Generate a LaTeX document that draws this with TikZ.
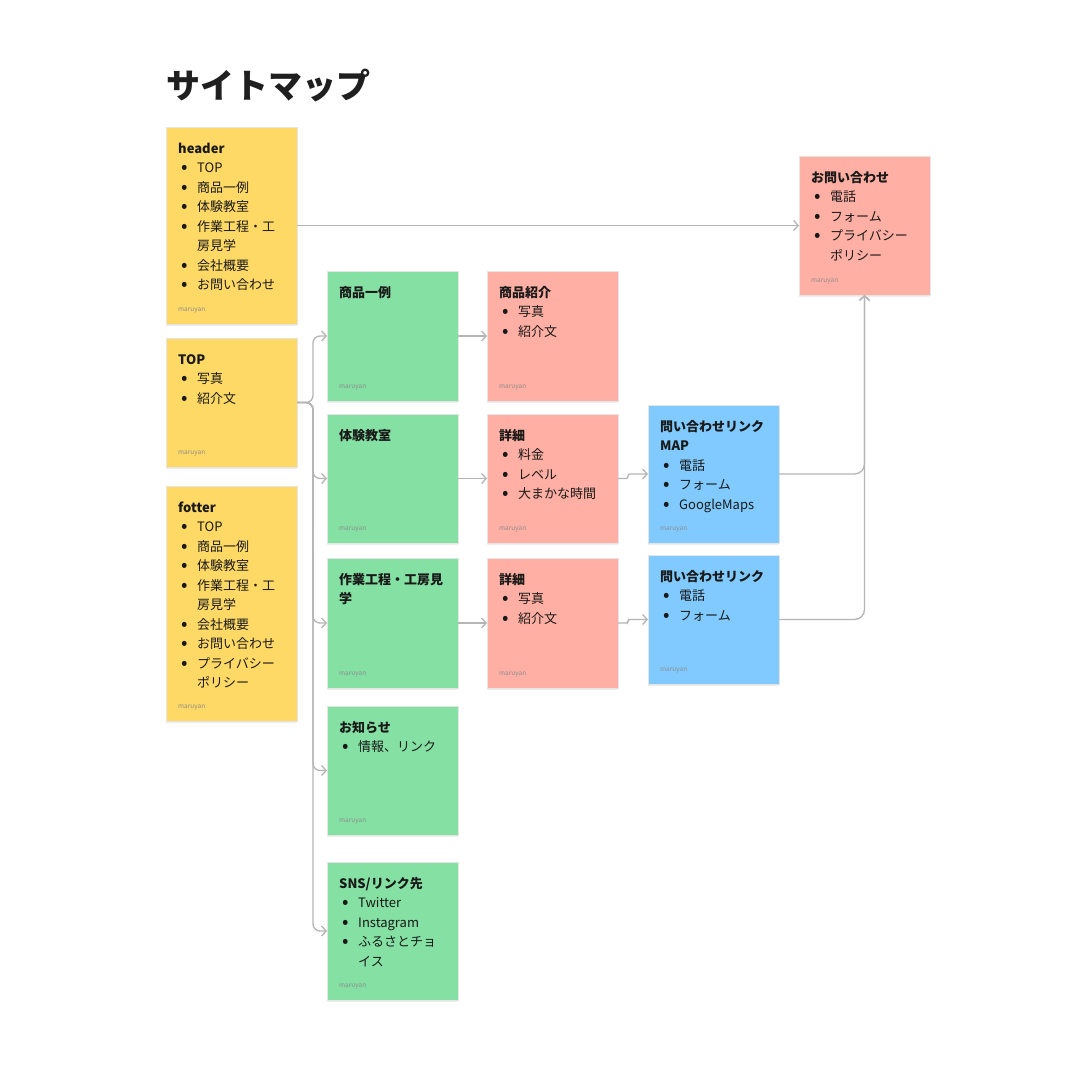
\documentclass[tikz,border=0pt]{standalone}
\usepackage{fontspec}
\setmainfont{Noto Sans CJK JP}
\usetikzlibrary{arrows.meta,calc,shadows}

\definecolor{yellownote}{HTML}{FFD966}
\definecolor{greennote}{HTML}{85E0A3}
\definecolor{rednote}{HTML}{FFAFA3}
\definecolor{bluenote}{HTML}{80CAFF}
\definecolor{lineg}{HTML}{B5B5B5}

\newcommand{\itm}[1]{\hspace*{3pt}\makebox[16pt][l]{\raisebox{-1pt}{\fontsize{19}{19}\selectfont•}}#1}
\newcommand{\cnt}[1]{\hspace*{19pt}#1}
\newcommand{\ttl}[1]{\rule{0pt}{14pt}\textbf{#1}}

\begin{document}
\begin{tikzpicture}[x=1pt,y=-1pt]
        \tikzstyle{note}=[anchor=north west,inner sep=0pt,outer sep=0pt,minimum width=131pt,
                draw=black!10,line width=.4pt,
                drop shadow={shadow xshift=0pt,shadow yshift=-2pt,opacity=.07,fill=black}]
        \tikzstyle{body}=[anchor=north west,inner sep=0pt,align=left,text=black!90,
                font=\fontsize{13}{19.5}\selectfont]
        \tikzstyle{sig}=[anchor=base west,inner sep=0pt,text=black!45,font=\fontsize{6.5}{7}\selectfont]
        \tikzstyle{conn}=[draw=lineg,line width=1.3pt,-{Straight Barb[length=4.5pt,width=10pt]}]

        \fill[white] (0,0) rectangle (1080,1080);
        \useasboundingbox (0,0) rectangle (1080,1080);

        \node [anchor=west,inner sep=0pt,text=black!88,font=\fontsize{34}{34}\selectfont\bfseries] (title) at (166,86) {サイトマップ};

        % left column
        \node [note,fill=yellownote,minimum height=197pt] (header) at (166,127) {};
        \node [note,fill=yellownote,minimum height=129pt] (top) at (166,338) {};
        \node [note,fill=yellownote,minimum height=235pt] (fotter) at (166,486) {};

        % pages
        \node [note,fill=greennote,minimum height=130pt] (shohin) at (327,271) {};
        \node [note,fill=greennote,minimum height=129pt] (taiken) at (327,414) {};
        \node [note,fill=greennote,minimum height=130pt] (sagyo) at (327,558) {};
        \node [note,fill=greennote,minimum height=129pt] (oshirase) at (327,706) {};
        \node [note,fill=greennote,minimum height=138pt] (sns) at (327,862) {};

        % contents
        \node [note,fill=rednote,minimum height=130pt] (shokai) at (487,271) {};
        \node [note,fill=rednote,minimum height=129pt] (shosai1) at (487,414) {};
        \node [note,fill=rednote,minimum height=130pt] (shosai2) at (487,558) {};

        % contact
        \node [note,fill=bluenote,minimum height=138pt] (toimap) at (648,405) {};
        \node [note,fill=bluenote,minimum height=129pt] (toilink) at (648,555) {};
        \node [note,fill=rednote,minimum height=139pt] (toi) at (799,156) {};

        % texts
        \node [body] (header-t) at ([shift={(12,12)}]header.north west)
                {\ttl{header}\\ \itm{TOP}\\ \itm{商品一例}\\ \itm{体験教室}\\ \itm{作業工程・工}\\ \cnt{房見学}\\
                 \itm{会社概要}\\ \itm{お問い合わせ}};
        \node [body] (top-t) at ([shift={(12,12)}]top.north west)
                {\ttl{TOP}\\ \itm{写真}\\ \itm{紹介文}};
        \node [body] (fotter-t) at ([shift={(12,12)}]fotter.north west)
                {\ttl{fotter}\\ \itm{TOP}\\ \itm{商品一例}\\ \itm{体験教室}\\ \itm{作業工程・工}\\ \cnt{房見学}\\
                 \itm{会社概要}\\ \itm{お問い合わせ}\\ \itm{プライバシー}\\ \cnt{ポリシー}};
        \node [body] (shohin-t) at ([shift={(12,12)}]shohin.north west) {\ttl{商品一例}};
        \node [body] (taiken-t) at ([shift={(12,12)}]taiken.north west) {\ttl{体験教室}};
        \node [body] (sagyo-t) at ([shift={(12,12)}]sagyo.north west) {\ttl{作業工程・工房見}\\ \textbf{学}};
        \node [body] (oshirase-t) at ([shift={(12,12)}]oshirase.north west)
                {\ttl{お知らせ}\\ \itm{情報、リンク}};
        \node [body] (sns-t) at ([shift={(12,12)}]sns.north west)
                {\ttl{SNS/リンク先}\\ \itm{Twitter}\\ \itm{Instagram}\\ \itm{ふるさとチョ}\\ \cnt{イス}};
        \node [body] (shokai-t) at ([shift={(12,12)}]shokai.north west)
                {\ttl{商品紹介}\\ \itm{写真}\\ \itm{紹介文}};
        \node [body] (shosai1-t) at ([shift={(12,12)}]shosai1.north west)
                {\ttl{詳細}\\ \itm{料金}\\ \itm{レベル}\\ \itm{大まかな時間}};
        \node [body] (shosai2-t) at ([shift={(12,12)}]shosai2.north west)
                {\ttl{詳細}\\ \itm{写真}\\ \itm{紹介文}};
        \node [body] (toimap-t) at ([shift={(12,12)}]toimap.north west)
                {\ttl{問い合わせリンク}\\ \textbf{MAP}\\ \itm{電話}\\ \itm{フォーム}\\ \itm{GoogleMaps}};
        \node [body] (toilink-t) at ([shift={(12,12)}]toilink.north west)
                {\ttl{問い合わせリンク}\\ \itm{電話}\\ \itm{フォーム}};
        \node [body] (toi-t) at ([shift={(12,12)}]toi.north west)
                {\ttl{お問い合わせ}\\ \itm{電話}\\ \itm{フォーム}\\ \itm{プライバシー}\\ \cnt{ポリシー}};

        %signature on every note
        \foreach \n in {header,top,fotter,shohin,taiken,sagyo,oshirase,sns,shokai,shosai1,shosai2,toimap,toilink,toi} {
            \node [sig] (\n-sig) at ([shift={(12,-13)}]\n.south west) {maruyan};
        };

        % connectors
        \coordinate (split) at ($(top.east)+(16,0)$);
        \foreach \g in {shohin,taiken,sagyo,oshirase,sns} {
            \draw [conn,rounded corners=7pt] (top.east) -- (split) |- (\g.west);
        };
        \draw [conn] (header.east) -- (toi.west);
        \draw [conn] (shohin.east) -- (shokai.west);
        \draw [conn] (taiken.east) -- (shosai1.west);
        \draw [conn] (sagyo.east) -- (shosai2.west);
        \draw [conn,rounded corners=2pt] (shosai1.east) -- ++(10,0) |- (toimap.west);
        \draw [conn,rounded corners=2pt] (shosai2.east) -- ++(10,0) |- (toilink.west);
        \draw [conn,rounded corners=10pt] (toimap.east) -| (toi.south);
        \draw [conn,rounded corners=10pt] (toilink.east) -| (toi.south);
\end{tikzpicture}
\end{document}
